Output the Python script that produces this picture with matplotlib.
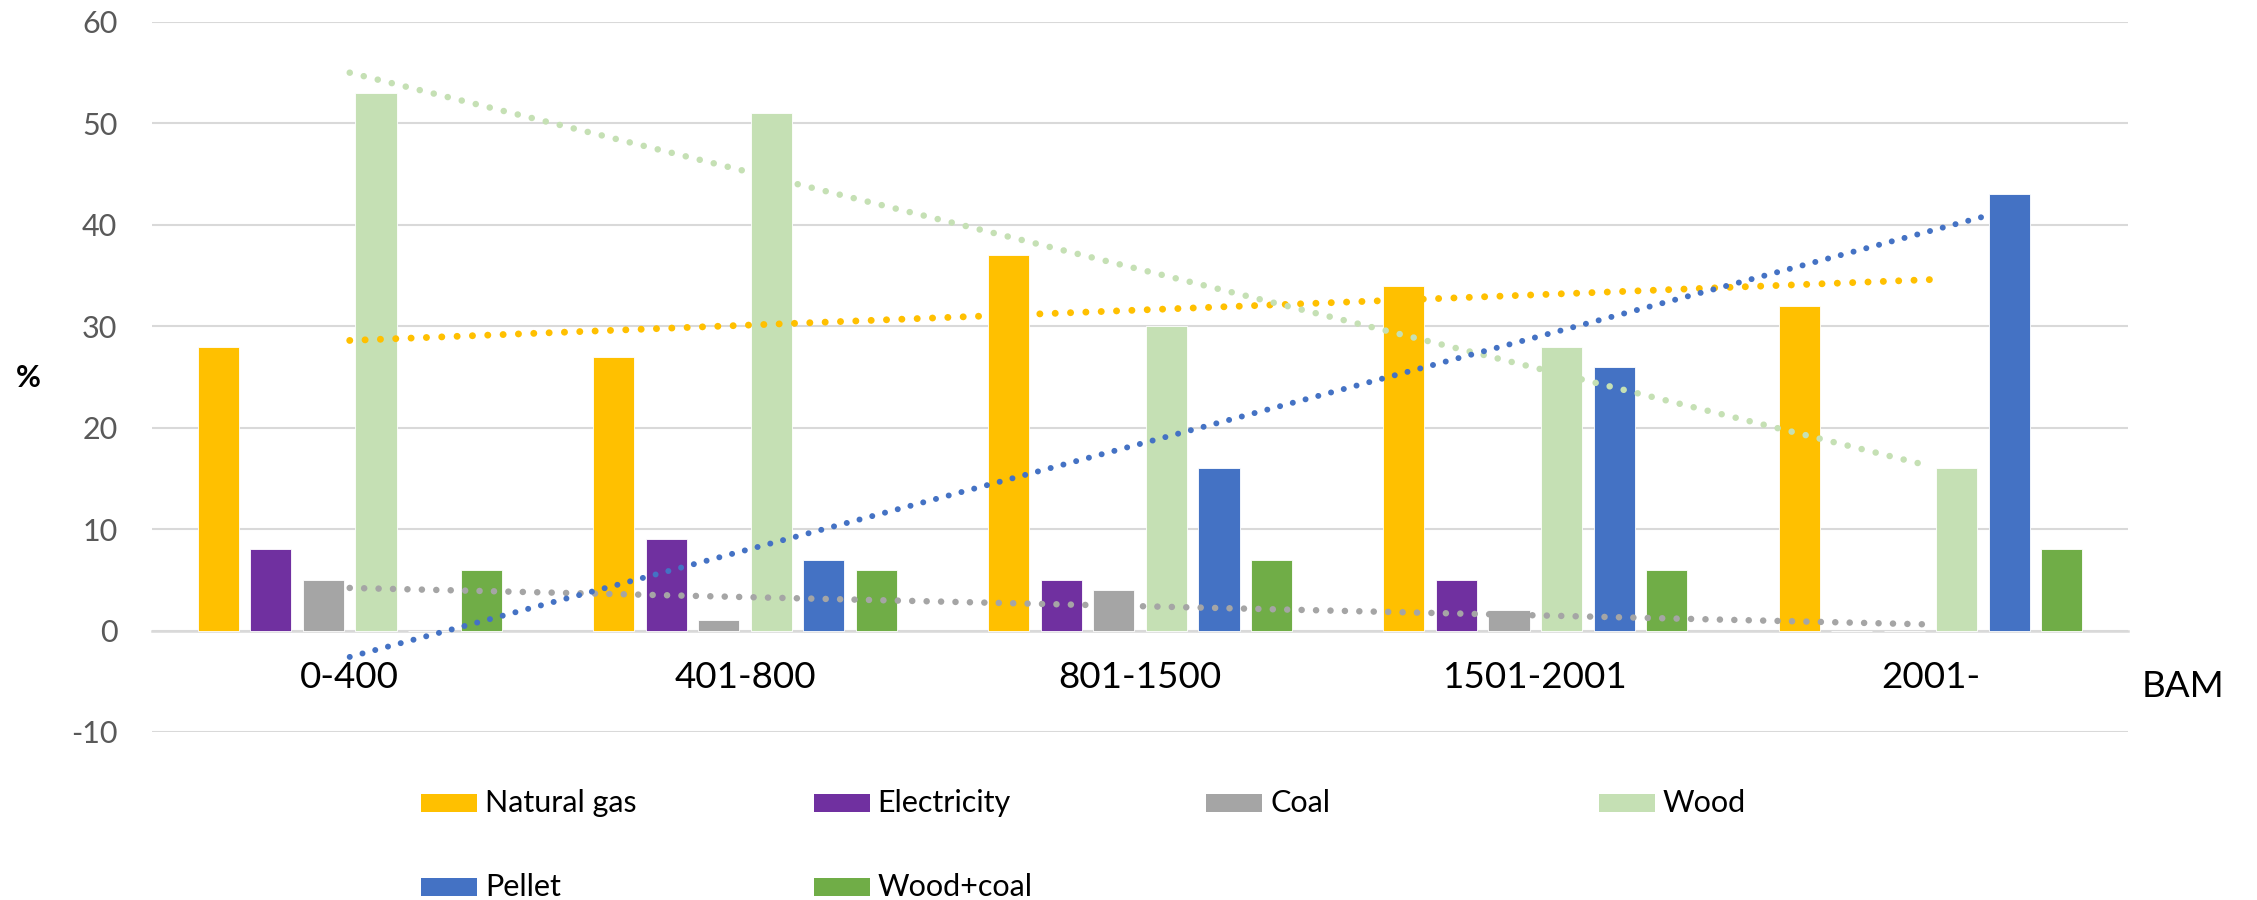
"""
Heating fuel share by household income group (BAM), with linear trend lines.
"""

import numpy as np
import matplotlib
matplotlib.use("Agg")
import matplotlib.pyplot as plt
from matplotlib.patches import Rectangle


# ─────────────────────────────────────────────
# Data
# ─────────────────────────────────────────────

categories = ["0-400", "401-800", "801-1500", "1501-2001", "2001-"]

natural_gas = [28, 27, 37, 34, 32]
electricity = [8, 9, 5, 5, 0]
coal        = [5, 1, 4, 2, 0]
wood        = [53, 51, 30, 28, 16]
pellet      = [0, 7, 16, 26, 43]
wood_coal   = [6, 6, 7, 6, 8]

series_names = ["Natural gas", "Electricity", "Coal", "Wood", "Pellet", "Wood+coal"]

y_ticks = [-10, 0, 10, 20, 30, 40, 50, 60]


# ─────────────────────────────────────────────
# Style
# ─────────────────────────────────────────────

COLORS = {
    "Natural gas": "#FFC000",
    "Electricity": "#7030A0",
    "Coal":        "#A5A5A5",
    "Wood":        "#C5E0B4",
    "Pellet":      "#4472C4",
    "Wood+coal":   "#70AD47",
}

# series that get a linear trend line: (values, line width, periods forecast forward)
TRENDS = {
    "Natural gas": (natural_gas, 5.0, 0.0),
    "Coal":        (coal,        4.7, 0.0),
    "Wood":        (wood,        4.7, 0.0),
    "Pellet":      (pellet,      4.3, 0.2),
}

plt.rcParams["font.family"] = ["Lato", "DejaVu Sans"]

BAR_PITCH = 0.133
BAR_WIDTH = 0.104


# ─────────────────────────────────────────────
# Chart
# ─────────────────────────────────────────────

fig = plt.figure(figsize=(22.57, 9.0), dpi=100)
ax = fig.add_axes([0.0674, 0.1867, 0.8755, 0.7889])

x = np.arange(1, len(categories) + 1)
values = [natural_gas, electricity, coal, wood, pellet, wood_coal]

for j, (name, vals) in enumerate(zip(series_names, values)):
    offset = (j - (len(series_names) - 1) / 2) * BAR_PITCH
    ax.bar(x + offset, vals, width=BAR_WIDTH, color=COLORS[name],
           edgecolor="white", linewidth=0.6, zorder=2)

# Linear trend lines, drawn from the first to the last category centre
for name, (vals, lw, forward) in TRENDS.items():
    slope, intercept = np.polyfit(x, vals, 1)
    xs = np.array([x[0], x[-1] + forward])
    ax.plot(xs, slope * xs + intercept, color=COLORS[name], linewidth=lw,
            linestyle=(0, (0.01, 2.2)), dash_capstyle="round",
            solid_capstyle="round", zorder=3)

ax.set_xlim(0.5, len(categories) + 0.5)
ax.set_ylim(-10, 60)
ax.set_yticks(y_ticks)
ax.set_yticklabels([str(t) for t in y_ticks])

ax.set_xticks(x)
ax.set_xticklabels(categories)

ax.yaxis.grid(True, color="#D9D9D9", linewidth=1.5, zorder=0)
ax.set_axisbelow(True)

for side in ["top", "right", "left"]:
    ax.spines[side].set_visible(False)
ax.spines["bottom"].set_position(("data", 0))
ax.spines["bottom"].set_color("#D9D9D9")
ax.spines["bottom"].set_linewidth(1.8)
ax.spines["bottom"].set_zorder(1)

ax.tick_params(axis="y", length=0, pad=25, labelsize=22, labelcolor="#595959")
ax.tick_params(axis="x", length=0, pad=22, labelsize=26.5, labelcolor="black")

fig.text(0.0124, 0.58, "%", fontsize=22, fontweight="bold",
         ha="center", va="center")
fig.text(0.967, 0.2367, "BAM", fontsize=26.5, ha="center", va="center")

# Legend, two rows of four evenly spaced columns
W, H = fig.get_size_inches() * fig.dpi
col_x0, col_pitch = 421, 392.5
row_y = [803, 887]
patch_w, patch_h = 56, 18
for i, name in enumerate(series_names):
    col, row = i % 4, i // 4
    px = col_x0 + col * col_pitch
    py = row_y[row]
    fig.add_artist(Rectangle((px / W, 1 - (py + patch_h / 2) / H),
                             patch_w / W, patch_h / H,
                             transform=fig.transFigure,
                             facecolor=COLORS[name], edgecolor="none"))
    fig.text((px + patch_w + 8) / W, 1 - py / H, name, fontsize=22,
             color="black", ha="left", va="center")

fig.savefig("out.png", dpi=100, facecolor="white")
